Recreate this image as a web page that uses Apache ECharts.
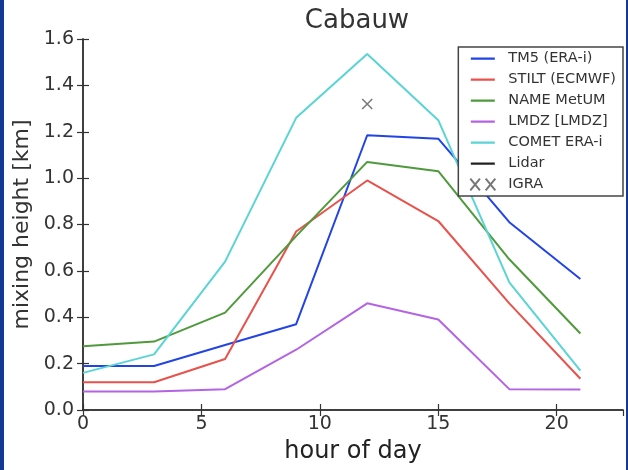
<!DOCTYPE html>
<html><head><meta charset="utf-8">
<script src="https://cdn.jsdelivr.net/npm/echarts@6/dist/echarts.min.js"></script>
<style>
html,body{margin:0;padding:0;background:#fff;}
#c{position:absolute;left:0;top:0;width:628px;height:470px;}
.strip{position:absolute;top:0;height:470px;background:#123a94;}
</style></head>
<body>
<div id="c"></div>
<div class="strip" style="left:0;width:4px"></div>
<div class="strip" style="left:626px;width:2px"></div>
<script>
const hours = [0, 3, 6, 9, 12, 15, 18, 21];
const tms   = [0.19, 0.19, 0.28, 0.37, 1.185, 1.17, 0.81, 0.565];
const stilt = [0.12, 0.12, 0.22, 0.77, 0.99, 0.815, 0.46, 0.135];
const name_ = [0.275, 0.295, 0.42, 0.75, 1.07, 1.03, 0.65, 0.33];
const lmdz  = [0.08, 0.08, 0.09, 0.26, 0.46, 0.39, 0.09, 0.088];
const comet = [0.16, 0.24, 0.64, 1.26, 1.535, 1.25, 0.55, 0.17];
const lidar = [];
const igraX = [12];
const igraY = [1.32];
const seriesNames = ['TM5 (ERA-i)', 'STILT (ECMWF)', 'NAME MetUM', 'LMDZ [LMDZ]', 'COMET ERA-i', 'Lidar', 'IGRA'];
const colors = ['#2244e6', '#e8524c', '#4f9a3c', '#b464e2', '#5ad4d4', '#222222', '#555555'];
const yTicks = [0, 0.2, 0.4, 0.6, 0.8, 1.0, 1.2, 1.4, 1.6];

const pairs = (xs, ys) => xs.map((x, i) => [x, ys[i]]);
const lineSets = [tms, stilt, name_, lmdz, comet];
const crossPath = 'path://M0,0L10,10M10,0L0,10';
const lineIcon = 'path://M0,0L0.01,0L0.01,0.01ZM0,5h24v2.2h-24ZM0,12L0.01,12L0.01,11.99Z';
const crossIcon = 'path://M0,0L10,12M10,0L0,12M16,0L26,12M26,0L16,12';

const series = lineSets.map((d, i) => ({
  name: seriesNames[i], type: 'line', data: pairs(hours, d),
  symbol: 'none', color: colors[i],
  lineStyle: {width: 2, color: colors[i]}, z: 3
}));
series.push({name: seriesNames[5], type: 'line', data: lidar, symbol: 'none', color: colors[5], lineStyle: {width: 2, color: colors[5]}});
series.push({name: seriesNames[6], type: 'scatter', data: pairs(igraX, igraY), symbol: crossPath, symbolSize: 10,
  itemStyle: {color: 'transparent', borderColor: colors[6], borderWidth: 1.5}, z: 4});

const frame = {lineStyle: {color: '#333', width: 1.5}};
const tick = {inside: true, length: 6, lineStyle: {color: '#333', width: 1.2}};
const chart = echarts.init(document.getElementById('c'));
chart.setOption({
  animation: false,
  backgroundColor: '#fff',
  title: {text: 'Cabauw', left: 352, top: 3, textAlign: 'center',
    textStyle: {fontFamily: 'DejaVu Sans', fontSize: 26, fontWeight: 'normal', color: '#333'}},
  grid: {left: 83, right: 5, top: 39, bottom: 60},
  legend: {
    orient: 'vertical', right: 5, top: 47,
    padding: [4, 7, 4, 11], itemGap: 6, itemWidth: 25, itemHeight: 12,
    backgroundColor: '#fff', borderColor: '#444', borderWidth: 1.5,
    textStyle: {fontFamily: 'DejaVu Sans', fontSize: 14.5, color: '#333', padding: [0, 0, 0, 8]},
    data: seriesNames.map((n, i) => ({name: n, icon: i === 6 ? crossIcon : lineIcon}))
  },
  xAxis: [{
    type: 'value', min: 0, max: 22.8, interval: 5,
    name: 'hour of day', nameLocation: 'middle', nameGap: 30,
    nameTextStyle: {fontFamily: 'DejaVu Sans', fontSize: 24, color: '#222'},
    axisLine: frame, axisTick: tick,
    axisLabel: {fontFamily: 'DejaVu Sans', fontSize: 19, color: '#333', margin: 5, showMaxLabel: false},
    splitLine: {show: false}
  }, {
    type: 'value', min: 0, max: 22.8, interval: 5, position: 'top',
    axisLine: frame, axisTick: tick,
    axisLabel: {show: false}, splitLine: {show: false}
  }],
  yAxis: [{
    type: 'value', min: 0, max: 1.6, interval: 0.2,
    name: 'mixing height [km]', nameLocation: 'middle', nameGap: 48,
    nameTextStyle: {fontFamily: 'DejaVu Sans', fontSize: 22, color: '#333'},
    axisLine: frame, axisTick: tick,
    axisLabel: {fontFamily: 'DejaVu Sans', fontSize: 19, color: '#333', margin: 9,
      formatter: v => yTicks.find(t => Math.abs(t - v) < 1e-6).toFixed(1)},
    splitLine: {show: false}
  }, {
    type: 'value', min: 0, max: 1.6, interval: 0.2, position: 'right',
    axisLine: frame, axisTick: tick,
    axisLabel: {show: false}, splitLine: {show: false}
  }],
  series: series
});
</script>
</body></html>
